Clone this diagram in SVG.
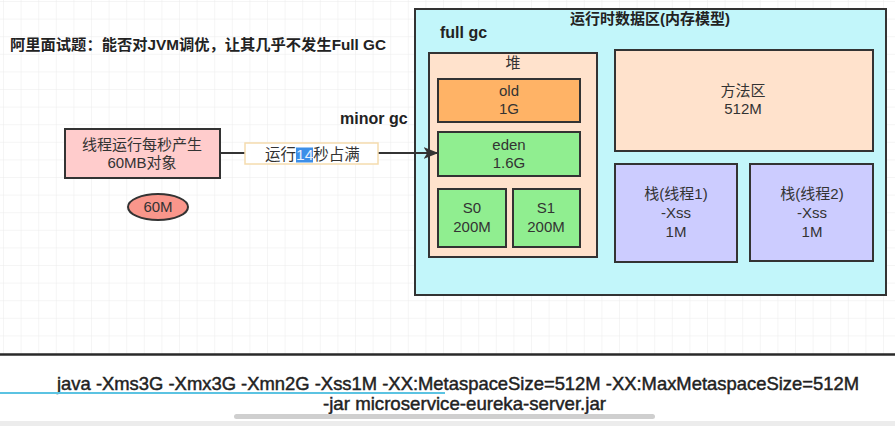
<svg xmlns="http://www.w3.org/2000/svg" width="895" height="426" viewBox="0 0 895 426">
<defs>
<pattern id="grid" x="4" y="2" width="17.6" height="17.6" patternUnits="userSpaceOnUse">
<path d="M17.6 0 V17.6 M0 17.6 H17.6" fill="none" stroke="#ebebeb" stroke-width="1"/>
</pattern>
<marker id="arr" viewBox="0 0 10 10" refX="9" refY="5" markerWidth="7.5" markerHeight="6" orient="auto" markerUnits="strokeWidth" preserveAspectRatio="none">
<path d="M0 0 L10 5 L0 10 L2.5 5 Z" fill="#333"/>
</marker>
<style>
text{font-family:"Liberation Sans","Noto Sans CJK SC",sans-serif;fill:#333;}
.n{font-size:15px;text-anchor:middle;}
.b{font-weight:bold;fill:#222;}
.box{stroke:#333;stroke-width:2;}
.cmd{font-size:18.5px;fill:#222;stroke:#222;stroke-width:0.45;}
</style>
</defs>
<rect x="0" y="0" width="895" height="426" fill="#fff"/>
<rect x="0" y="0" width="895" height="354" fill="url(#grid)"/>

<text class="b" x="10" y="50" font-size="15" textLength="376" lengthAdjust="spacingAndGlyphs">阿里面试题：能否对JVM调优，让其几乎不发生Full GC</text>

<g id="thread">
<rect class="box" x="65" y="129" width="155" height="49" fill="#ffcccc"/>
<text class="n" x="142" y="150">线程运行每秒产生</text>
<text class="n" x="142" y="168">60MB对象</text>
</g>

<g id="obj60m">
<ellipse class="box" cx="158" cy="207" rx="30" ry="13" fill="#f9968b"/>
<text class="n" x="158" y="212">60M</text>
</g>

<text class="b" x="340" y="124" font-size="16">minor gc</text>

<g id="runtime">
<rect class="box" x="415" y="9" width="471" height="286" fill="#c2f6fa"/>
<text class="b" x="650" y="24" font-size="15" text-anchor="middle">运行时数据区(内存模型)</text>
<text class="b" x="440" y="38" font-size="16">full gc</text>
</g>

<g id="heap">
<rect class="box" x="429" y="53" width="168" height="204" fill="#ffe2cc"/>
<text class="n" x="513" y="68">堆</text>
</g>

<g id="old">
<rect class="box" x="438" y="79" width="142" height="43" fill="#ffb366"/>
<text class="n" x="509" y="96">old</text>
<text class="n" x="509" y="114">1G</text>
</g>

<g id="eden">
<rect class="box" x="438" y="132" width="142" height="44" fill="#90ee90"/>
<text class="n" x="509" y="150">eden</text>
<text class="n" x="509" y="168">1.6G</text>
</g>

<g id="s0">
<rect class="box" x="438" y="189" width="68" height="58" fill="#90ee90"/>
<text class="n" x="472" y="213">S0</text>
<text class="n" x="472" y="232">200M</text>
</g>

<g id="s1">
<rect class="box" x="513" y="189" width="67" height="58" fill="#90ee90"/>
<text class="n" x="546" y="213">S1</text>
<text class="n" x="546" y="232">200M</text>
</g>

<g id="method">
<rect class="box" x="615" y="50" width="258" height="101" fill="#ffe2cc"/>
<text class="n" x="743" y="96">方法区</text>
<text class="n" x="743" y="114">512M</text>
</g>

<g id="stack1">
<rect class="box" x="615" y="164" width="122" height="98" fill="#ccccff"/>
<text class="n" x="676" y="199">栈(线程1)</text>
<text class="n" x="676" y="218">-Xss</text>
<text class="n" x="676" y="237">1M</text>
</g>

<g id="stack2">
<rect class="box" x="750" y="164" width="123" height="97" fill="#ccccff"/>
<text class="n" x="812" y="199">栈(线程2)</text>
<text class="n" x="812" y="218">-Xss</text>
<text class="n" x="812" y="237">1M</text>
</g>

<g id="connectors">
<line x1="220" y1="153" x2="437" y2="153" stroke="#333" stroke-width="2" marker-end="url(#arr)"/>
</g>

<g id="label">
<rect x="245" y="143" width="133" height="21" fill="#fff" stroke="#f5dcae" stroke-width="1.5"/>
<rect x="296" y="147.5" width="17" height="15" fill="#3d8fe8"/>
<text x="265" y="160" font-size="15.5">运行<tspan fill="#eaf2ff">14</tspan>秒占满</text>
</g>

<line x1="0" y1="354.5" x2="895" y2="354.5" stroke="#2a2a2a" stroke-width="2.5"/>
<text class="cmd" x="57" y="390" textLength="802" lengthAdjust="spacingAndGlyphs">java -Xms3G -Xmx3G -Xmn2G -Xss1M  -XX:MetaspaceSize=512M -XX:MaxMetaspaceSize=512M</text>
<line x1="0" y1="393" x2="445" y2="393" stroke="#5bc3e2" stroke-width="2"/>
<text class="cmd" x="323" y="410" textLength="283" lengthAdjust="spacingAndGlyphs">-jar microservice-eureka-server.jar</text>
<rect x="234" y="414" width="421" height="5" rx="2.5" fill="#cfcfcf"/>
<rect x="0" y="421" width="895" height="5" fill="#ececec"/>
</svg>
